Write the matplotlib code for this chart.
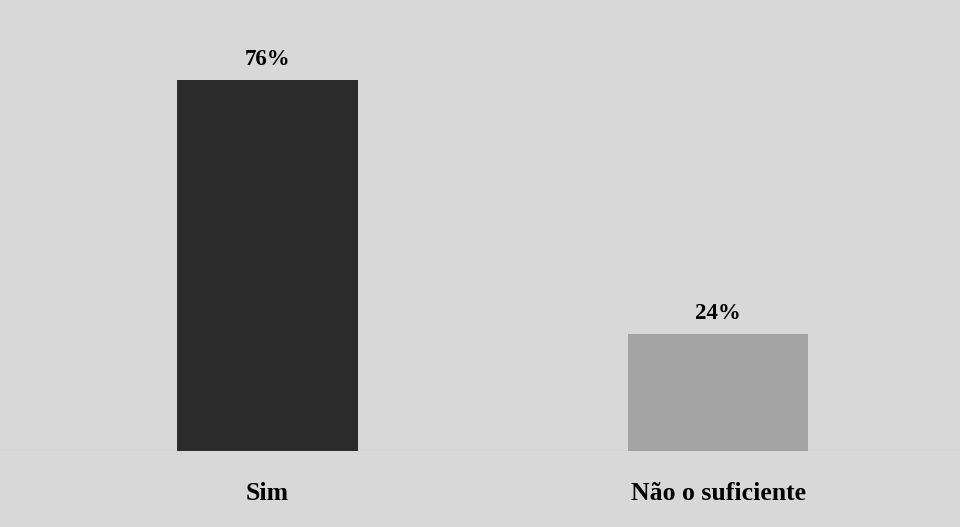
import matplotlib.pyplot as plt

categories = ["Sim", "Não o suficiente"]
values = [76, 24]
value_labels = ["76%", "24%"]
bar_colors = ["#2b2b2b", "#a3a3a3"]

plt.rcParams['font.family'] = ['Liberation Serif', 'DejaVu Serif']

fig = plt.figure(figsize=(9.6, 5.27), dpi=100)
fig.patch.set_facecolor("#d8d8d8")
ax = fig.add_axes([0, 0.144, 1, 0.856])
ax.set_facecolor("#d8d8d8")

x = list(range(len(categories)))
bars = ax.bar(x, values, width=0.4, color=bar_colors)

for b, lab in zip(bars, value_labels):
    ax.text(b.get_x() + b.get_width() / 2, b.get_height() + 2.0, lab,
            ha="center", va="bottom", fontsize=16.5, fontweight="bold")

for xi, cat in zip(x, categories):
    fig.text((xi + 0.594) / 2.131, 0.064, cat, ha="center", va="center",
             fontsize=18.5, fontweight="bold")

ax.axhline(0, color="#8a8a8a", lw=0.8)
ax.set_xlim(-0.594, 1.537)
ax.set_ylim(0, 92.4)
ax.axis("off")

fig.savefig("out.png", dpi=100, facecolor=fig.get_facecolor())
